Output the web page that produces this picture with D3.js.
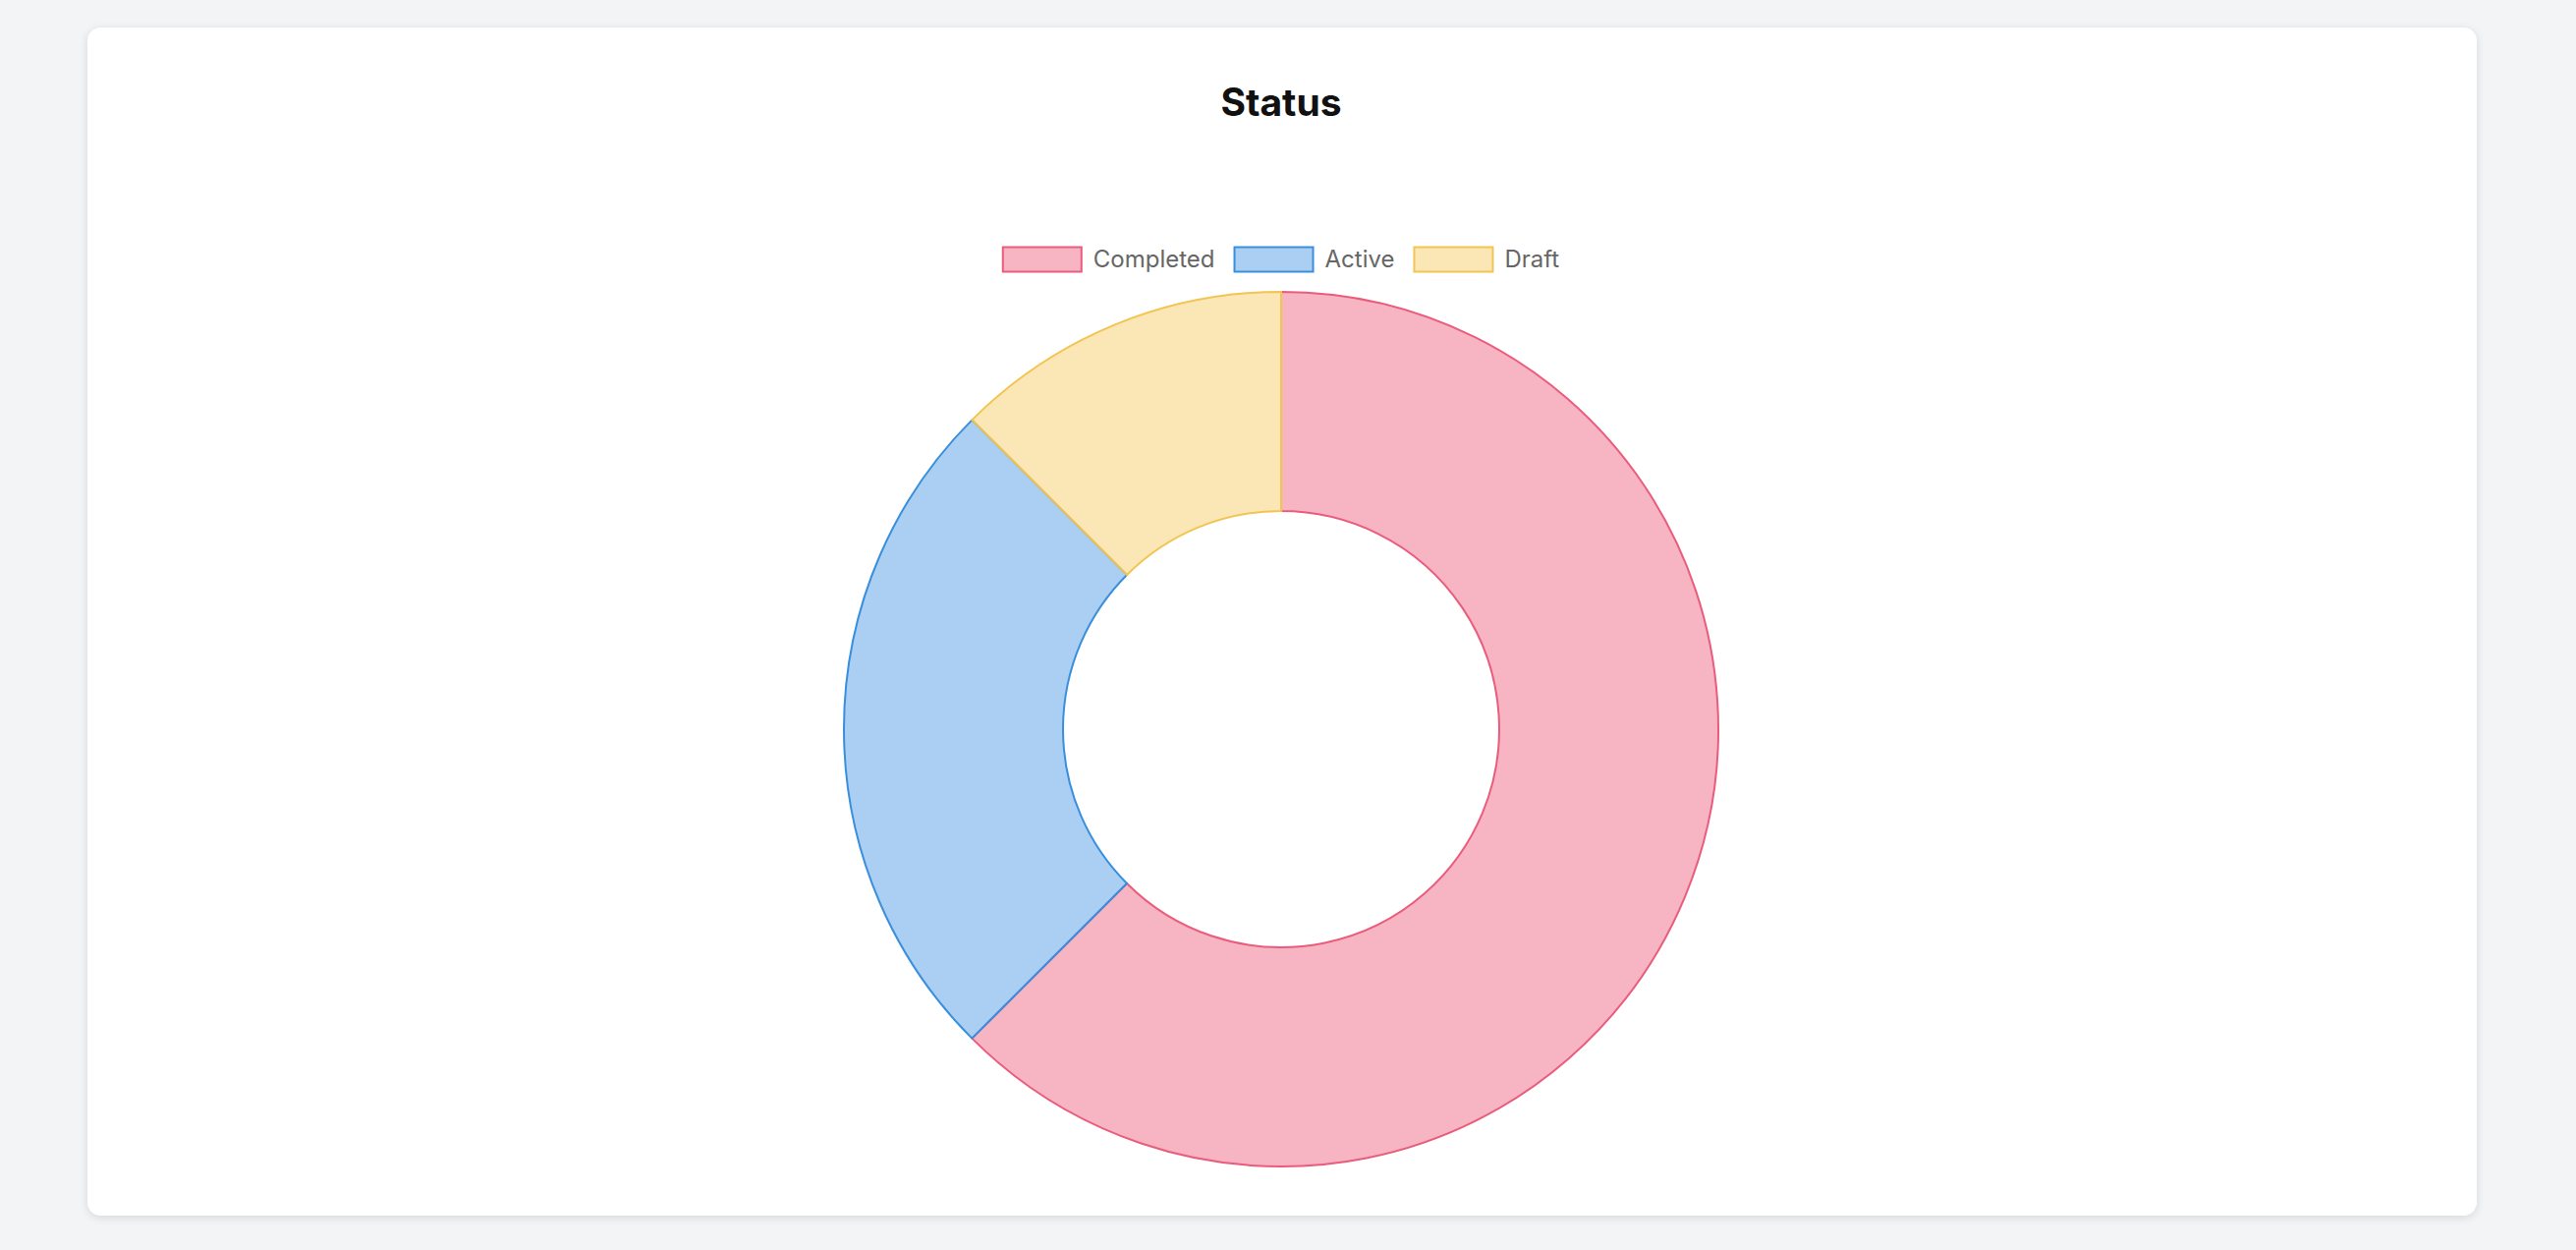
<!DOCTYPE html>
<html>
<head>
<meta charset="utf-8">
<script src="https://cdn.jsdelivr.net/npm/d3@7"></script>
<style>
  body { margin: 0; background: #f3f4f6; font-family: Inter, "Helvetica Neue", Arial, sans-serif; }
  svg { display: block; }
</style>
</head>
<body>
<svg id="chart" width="2622" height="1272"></svg>
<script>
const categories = ['Completed', 'Active', 'Draft'];
const values = [5, 2, 1];
const fills = ['rgba(239,100,130,0.48)', 'rgba(85,160,230,0.5)', 'rgba(246,200,90,0.45)'];
const strokes = ['#ea5c7c', '#3a8fdd', '#f2c452'];

const svg = d3.select('#chart');

// card
svg.append('defs').append('filter').attr('id', 'shadow')
  .append('feDropShadow').attr('dx', 0).attr('dy', 2).attr('stdDeviation', 4)
  .attr('flood-color', '#000').attr('flood-opacity', 0.12);
svg.append('rect')
  .attr('x', 89).attr('y', 28).attr('width', 2432).attr('height', 1209)
  .attr('rx', 14).attr('fill', '#fff').attr('filter', 'url(#shadow)');

svg.append('text')
  .attr('x', 1304).attr('y', 118)
  .attr('text-anchor', 'middle')
  .attr('font-size', 39).attr('font-weight', 700).attr('fill', '#111')
  .text('Status');

// legend
const legend = svg.append('g').attr('transform', 'translate(0,264)');
const boxW = 80, boxH = 25, gap = 12, itemGap = 20;
legend.append('g').attr('font-size', 24);
let x = 0;
const items = categories.map((c, i) => {
  const g = legend.append('g');
  g.append('rect').attr('x', 0).attr('y', -boxH / 2).attr('width', boxW).attr('height', boxH)
    .attr('fill', fills[i]).attr('stroke', strokes[i]).attr('stroke-width', 2);
  const t = g.append('text').attr('x', boxW + gap).attr('y', 0).attr('dy', '0.35em')
    .attr('font-size', 24).attr('fill', '#666').text(c);
  const w = boxW + gap + t.node().getComputedTextLength();
  g.attr('transform', `translate(${x},0)`);
  x += w + itemGap;
  return g;
});
const total = x - itemGap;
legend.attr('transform', `translate(${1304 - total / 2},264)`);

// donut
const cx = 1304, cy = 742, R = 445, r = 222;
const pie = d3.pie().sort(null).value(d => d)(values);
const arc = d3.arc().innerRadius(r).outerRadius(R);
svg.append('g').attr('transform', `translate(${cx},${cy})`)
  .selectAll('path').data(pie).join('path')
  .attr('d', arc)
  .attr('fill', (d, i) => fills[i])
  .attr('stroke', (d, i) => strokes[i])
  .attr('stroke-width', 2);
</script>
</body>
</html>
